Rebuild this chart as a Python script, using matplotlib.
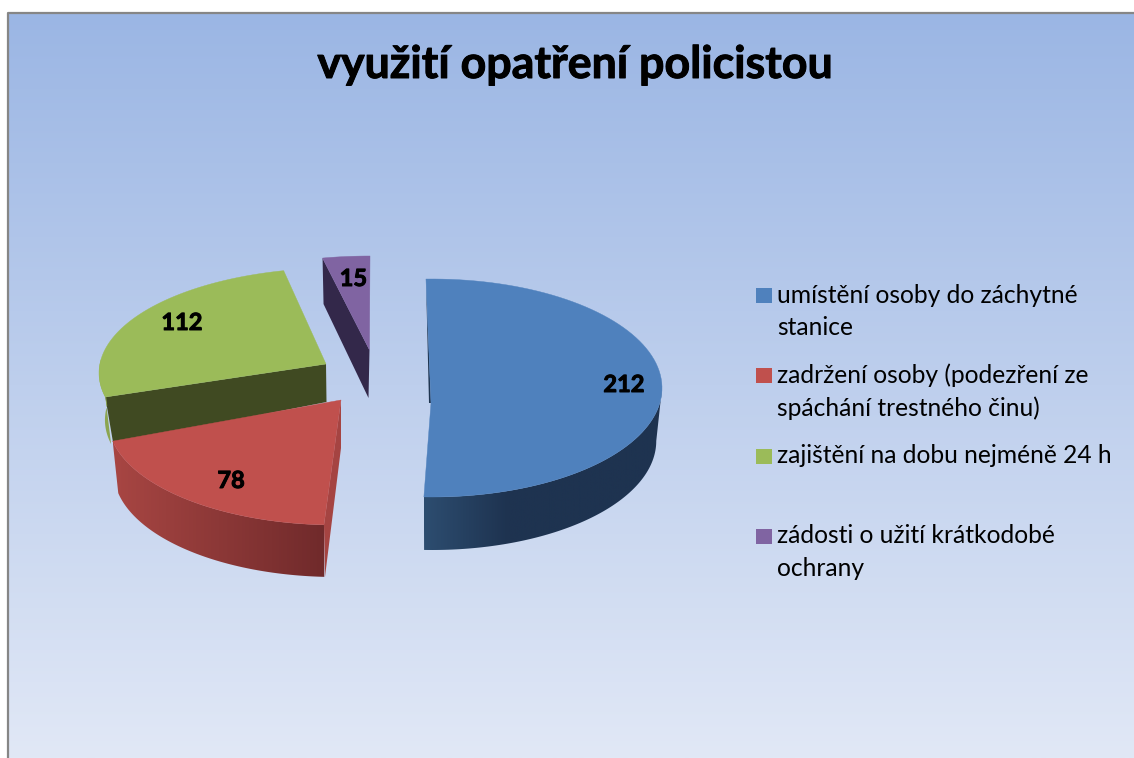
import numpy as np
import matplotlib
matplotlib.use('Agg')
import matplotlib.pyplot as plt
import matplotlib.patheffects as pe
from matplotlib.patches import Polygon, Rectangle

plt.rcParams['font.family'] = ['Lato', 'DejaVu Sans']

# values
title = 'využití opatření policistou'
categories = ['umístění osoby do záchytné\nstanice',
              'zadržení osoby (podezření ze\nspáchání trestného činu)',
              'zajištění na dobu nejméně 24 h',
              'zádosti o užití krátkodobé\nochrany']
values = [212, 78, 112, 15]

# colours of the slices
topColors = ['#4f81bd', '#c0504d', '#9bbb59', '#8064a2']
innerColors = ['#1f3550', '#a54442', '#404a22', '#33284a']
wallLeft = ['#2d4d70', '#a84643', '#8ca650', '#33284a']
wallRight = ['#1e3350', '#702a2b', '#8ca650', '#33284a']
# where the wall gradient reaches its dark end, as a part of the wall width
wallRamp = [0.35, 1, 1, 1]

# projected geometry of every exploded slice, in pixels of the picture
centers = [(432, 388), (336, 420), (337, 373), (370, 356)]
apexes = [(431, 403), (341, 400), (326, 364), (369.5, 350)]
radii = [(230, 109), (228, 105), (238, 105), (235, 100)]
depths = [53, 52, 47, 46]
# the 3d projection moves the visible ends of a slice by a few degrees
startShift = [-1.5, 0, 6.4, 1.3]
endShift = [-1, 8, 0, 0]
labelPos = [(624, 392), (231, 488), (182, 330), (353.5, 286)]
legendBase = [(303, 335), (383, 416), (463,), (543, 576)]
boxY = [288, 368, 449, 529]
bottomScale = 0.975


def rim(i, a, b, depth=0):
    # outer edge of slice i between the angles a and b (degrees, clockwise from top)
    t = np.radians(np.linspace(a, b, 90))
    cx, cy = centers[i]
    rx, ry = radii[i]
    if depth:
        rx = rx * bottomScale
    return np.column_stack([cx + rx * np.sin(t), cy - ry * np.cos(t) + depth])


def hexRgb(c):
    return np.array(matplotlib.colors.to_rgb(c))


def gradientFill(ax, pts, left, right, ramp, zorder):
    # horizontal colour gradient clipped to a polygon
    x0, x1 = pts[:, 0].min(), pts[:, 0].max()
    y0, y1 = pts[:, 1].min(), pts[:, 1].max()
    s = np.clip(np.linspace(0, 1, 256) / ramp, 0, 1)[None, :, None]
    img = hexRgb(left) * (1 - s) + hexRgb(right) * s
    im = ax.imshow(img, extent=(x0, x1, y1, y0), aspect='auto', zorder=zorder)
    patch = Polygon(pts, closed=True, transform=ax.transData, fc='none', ec='none')
    ax.add_patch(patch)
    im.set_clip_path(patch)


def drawSlice(ax, i, a, b, z):
    start = a + startShift[i]
    end = b + endShift[i]
    top = rim(i, start, end)
    apex = np.array(apexes[i], dtype=float)
    d = depths[i]
    first = top[0]

    # flat cut faces
    if i == 0:
        # only a thin sliver of this face is visible
        face = [first, apex, apex + [-2, 0]]
    elif i == 1:
        face = [first, apex, apex + [0, 48], first + [1, d]]
    elif i == 2:
        face = [first, apex, apex + [0.5, d - 9], first + [8, d]]
    else:
        face = [first, apex, apex + [-1, d + 2], first + [1, d]]
    ax.add_patch(Polygon(face, closed=True, fc=innerColors[i], ec='none', zorder=z))

    # outer wall, only the part turned to the viewer
    wallA = max(start, 90)
    wallB = min(end, 278)
    if wallA < wallB:
        upper = rim(i, wallA, wallB)
        lower = rim(i, wallA, wallB, d)
        wall = np.vstack([upper, lower[::-1]])
        gradientFill(ax, wall, wallLeft[i], wallRight[i], wallRamp[i], z + 0.1)

    # top face
    ax.add_patch(Polygon(np.vstack([apex, top]), closed=True, fc=topColors[i],
                         ec=topColors[i], lw=0.3, zorder=z + 0.5))


def plotChart():
    fig = plt.figure(figsize=(11.34, 7.58), dpi=100)
    ax = fig.add_axes([0, 0, 1, 1])
    ax.axis('off')

    # background
    s = np.linspace(0, 1, 256)[:, None, None]
    bg = np.array([155, 182, 228]) / 255 * (1 - s) + np.array([225, 232, 246]) / 255 * s
    ax.imshow(bg, extent=(8, 1134, 758, 13), aspect='auto', zorder=0)
    ax.plot([8, 8, 1134], [758, 13, 13], color='#868686', lw=1.6, zorder=1)

    # Lato bold is a bit lighter than the original face
    heavy = [pe.withStroke(linewidth=0.7, foreground='black')]
    ax.text(575, 78, title, fontsize=32.2, fontweight='bold', ha='center', va='baseline',
            color='black', zorder=9, path_effects=heavy)

    # slice angles come from the values
    total = sum(values)
    angles = np.cumsum([0] + values) / total * 360
    drawOrder = [3, 2, 1, 0]
    for n, i in enumerate(drawOrder):
        drawSlice(ax, i, angles[i], angles[i + 1], 2 + n)

    for i in range(len(values)):
        ax.text(labelPos[i][0], labelPos[i][1], str(values[i]), fontsize=17, fontweight='bold',
                ha='center', va='baseline', color='black', zorder=9, path_effects=heavy)

    # legend
    for i in range(len(categories)):
        ax.add_patch(Rectangle((756, boxY[i]), 15.5, 15, fc=topColors[i], ec='none', zorder=9))
        lines = categories[i].split('\n')
        for j in range(len(lines)):
            ax.text(777, legendBase[i][j], lines[j], fontsize=17.7, ha='left', va='baseline', color='black', zorder=9)

    ax.set_xlim(0, 1134)
    ax.set_ylim(758, 0)
    fig.savefig('out.png', dpi=100)


if __name__ == "__main__":
    plotChart()
